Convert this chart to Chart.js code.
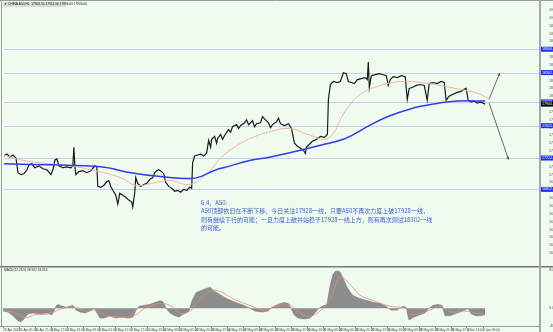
<!DOCTYPE html>
<html>
<head>
<meta charset="utf-8">
<script src="https://cdn.jsdelivr.net/npm/chart.js@4.4.1/dist/chart.umd.min.js"></script>
<style>
html, body { margin: 0; padding: 0; background: #f0fbef; }
#wrap { position: relative; width: 553px; height: 332px; overflow: hidden; background: #f0fbef; }
#main { position: absolute; left: 0; top: 0; }
#macd { position: absolute; left: 0; top: 266px; }
#note { position: absolute; left: 201px; top: 199px; font-family: "Noto Sans CJK SC", sans-serif; font-size: 6px; line-height: 8.3px; color: #3a5ad8; white-space: nowrap; }
</style>
</head>
<body>
<div id="wrap">
  <canvas id="main" width="553" height="266"></canvas>
  <canvas id="macd" width="553" height="66"></canvas>
  <div id="note">6.4，A50:<br>A50顶部依旧在不断下移，今日关注17928一线，只要A50不再次力度上破17928一线，<br>则有继续下行的可能；一旦力度上破并站稳于17928一线上方，则有再次测试18302一线<br>的可能。</div>
</div>
<script>
// hourly bars, index from the first bar on the left
const priceBars = [0,3,6,9,12,14,17,20,23,25,28,31,35,39,43,47,49,51,53,55,59,63,67,69,70,71,72,75,79,83,87,91,93,94,97,100,103,105,107,109,112,114,116,119,122,125,128,129,131,132,134,137,140,143,146,149,151,153,155,158,160,162,165,168,171,174,177,180,183,186,188,189,191,194,197,200,203,205,207,208,211,213,214,217,219,221,225,227,229,233,235,237,241,243,245,249,251,253,257,259,261,265,267,269,273,275,277,281,285,288,291,294,297,300,302,303,306,309,313,317,321,324,325,327,330,334,337,340,343,345,348,351,354,358,362,364,365,366,368,372,376,380,383,385,387,390,394,398,402,404,406,409,413,417,421,424,426,430,434,438,441,443,446,450,454,458,461,463,465,468,471,474,477,480,482];
const priceClose = [17238,17262,17225,17250,17212,17025,17000,17012,17062,17125,17138,17088,17112,17075,17062,17000,17062,17188,17200,17112,17088,17100,17088,17112,17350,17112,17000,17038,17050,17025,17050,17112,17100,16850,16838,16862,16912,16925,16850,16800,16738,16625,16762,16738,16712,16675,16650,16588,16775,16962,16888,16850,16875,16888,16938,16962,17025,17050,17062,17038,17012,16900,16850,16825,16788,16800,16775,16812,16800,16838,16825,17150,17238,17250,17262,17238,17275,17438,17350,17450,17488,17400,17462,17512,17450,17500,17575,17540,17612,17638,17590,17625,17662,17700,17638,17688,17610,17650,17662,17740,17712,17662,17600,17638,17675,17720,17650,17625,17650,17588,17400,17362,17338,17312,17270,17350,17388,17425,17450,17488,17475,17512,17962,18150,18188,18175,18188,18300,18288,18188,18175,18162,18212,18225,18238,18212,18438,18112,18262,18275,18288,18275,18262,18138,18212,18250,18238,18262,18250,17962,18100,18112,18138,18150,18138,17950,18162,18175,18162,18188,18175,17950,18000,18025,18050,18062,18088,18100,17950,17925,17938,17912,17925,17912,17900];

const maFastBars = [0,17,37,67,87,117,132,152,167,182,192,202,209,217,232,247,267,287,307,325,342,357,377,397,417,437,457,472,487];
const maFast = [17250,17188,17150,17112,17062,16962,16862,16900,16925,16875,16900,17000,17088,17212,17362,17462,17550,17588,17500,17462,17812,18025,18138,18188,18175,18138,18088,18050,17962];

const maSlowBars = [0,47,97,127,157,187,197,210,227,244,267,297,317,342,364,384,407,430,454,482];
const maSlow = [17138,17125,17100,17025,16975,16950,16975,17050,17112,17175,17225,17312,17375,17462,17612,17738,17838,17900,17938,17938];

const levelValues = [18600, 18302, 17928, 17625, 17212, 16812];
const lastPrice = 17900;

const arrowUpBars = [486, 496];
const arrowUp = [17962, 18275];
const arrowDownBars = [486, 505];
const arrowDown = [17912, 17212];

const macdBars = [0,5,10,15,18,21,25,30,37,44,49,53,55,59,63,67,70,73,77,82,87,91,94,97,101,107,113,119,125,130,133,136,141,147,152,157,160,163,167,172,176,181,186,189,193,197,202,207,211,217,225,233,241,247,252,259,265,269,275,281,285,288,291,295,301,307,311,315,319,324,327,330,333,337,340,344,349,354,359,365,371,377,383,388,394,400,403,406,411,417,422,426,430,435,439,442,447,452,457,462,465,468,473,477,482];
const macdHist = [-6,-8,-16,-27,-29,-23,-12,-10,-12,-10,-14,4,8,4,2,4,6,-4,-8,-10,-6,0,-10,-21,-21,-16,-21,-19,-21,-19,-4,4,6,8,12,16,14,0,-10,-16,-19,-12,-6,16,33,37,41,45,37,29,19,12,6,0,-6,-8,-6,2,8,12,10,0,-14,-21,-23,-21,-12,-2,4,8,47,72,80,78,64,45,29,23,19,16,12,10,4,-4,-4,4,2,-25,-19,-14,-10,0,6,8,6,-16,-16,-12,-8,-4,0,-12,-16,-16,-14];

const signalBars = [0,12,22,32,47,57,72,82,92,102,117,132,142,157,167,179,189,197,209,219,232,247,259,272,285,293,305,317,327,337,345,357,372,387,402,409,425,437,447,462,472,482];
const signalVals = [-4,-10,-20,-14,-12,-2,3,-6,-4,-15,-19,-15,0,10,6,-12,-2,20,38,34,18,6,-4,2,9,-4,-18,-6,20,66,56,28,15,4,0,-14,-6,4,-8,-6,-10,-14];

const dateLabels = ['29 Apr 2021','30 Apr 01:00','30 Apr 21:00','3 May 17:00','4 May 13:00','5 May 09:00','6 May 01:00','6 May 21:00','7 May 17:00','10 May 13:00','11 May 09:00','12 May 01:00','12 May 21:00','13 May 17:00','14 May 13:00','17 May 09:00','18 May 01:00','18 May 21:00','19 May 17:00','20 May 13:00','21 May 09:00','22 May 01:00','24 May 21:00','25 May 17:00','26 May 13:00','27 May 09:00','28 May 01:00','28 May 21:00','31 May 17:00','1 Jun 13:00','2 Jun 09:00'];
const labelStep = 16;

const titleText = '\u25BC CHINA A50,H1  17903.50 17912.00 17896.00 17900.00';
const macdTitle = 'MACD(12,26,9) 28.902 41.356';

const pts = (xs, ys) => xs.map((x, i) => ({ x: x, y: ys[i] }));
const tiny = "'Liberation Sans', Arial, sans-serif";

const mainPlugin = {
  id: 'mainDeco',
  beforeDatasetsDraw(chart) {
    const { ctx, chartArea: a, scales: { y } } = chart;
    ctx.save();
    ctx.strokeStyle = '#c4cef2';
    ctx.lineWidth = 1;
    levelValues.forEach(v => {
      const py = Math.round(y.getPixelForValue(v)) + 0.5;
      ctx.beginPath(); ctx.moveTo(a.left, py); ctx.lineTo(a.right, py); ctx.stroke();
    });
    ctx.restore();
  },
  afterDraw(chart) {
    const { ctx, chartArea: a, scales: { y } } = chart;
    ctx.save();
    ctx.strokeStyle = '#9a9a9a';
    ctx.lineWidth = 1;
    ctx.beginPath(); ctx.moveTo(1.5, 0); ctx.lineTo(1.5, 266); ctx.stroke();
    ctx.beginPath(); ctx.moveTo(0, 0.5); ctx.lineTo(553, 0.5); ctx.stroke();
    ctx.lineWidth = 2;
    ctx.strokeStyle = '#a8a8a8';
    ctx.beginPath(); ctx.moveTo(a.right + 1, 0); ctx.lineTo(a.right + 1, 266); ctx.stroke();
    ctx.font = '3.6px ' + tiny;
    ctx.textBaseline = 'middle';
    const box = (v, bg) => {
      const py = y.getPixelForValue(v);
      ctx.fillStyle = bg;
      ctx.fillRect(a.right + 2, py - 2.5, 553 - a.right - 2, 5);
      ctx.fillStyle = '#ffffff';
      ctx.fillText(v.toFixed(2), a.right + 3, py);
    };
    levelValues.forEach(v => box(v, '#1f2cf0'));
    box(lastPrice, '#000000');
    ctx.fillStyle = '#dcdcdc';
    ctx.fillRect(3, 2, 63, 5);
    ctx.fillStyle = '#111';
    ctx.font = '3.2px ' + tiny;
    ctx.fillText(titleText, 4, 4.6);
    ctx.restore();
  }
};

new Chart(document.getElementById('main'), {
  type: 'line',
  data: {
    datasets: [
      { data: pts(maSlowBars, maSlow), borderColor: '#2f3ee6', borderWidth: 1.5, pointRadius: 0, tension: 0.4 },
      { data: pts(maFastBars, maFast), borderColor: '#f2b3a4', borderWidth: 1, pointRadius: 0, tension: 0.4 },
      { data: pts(priceBars, priceClose), borderColor: '#1a1a1a', borderWidth: 1.2, pointRadius: 0, tension: 0 },
      { data: pts(arrowUpBars, arrowUp), borderColor: '#666', borderWidth: 1, pointRadius: [0, 2], pointStyle: 'triangle', pointRotation: 22, pointBackgroundColor: '#666', pointBorderWidth: 0 },
      { data: pts(arrowDownBars, arrowDown), borderColor: '#666', borderWidth: 1, pointRadius: [0, 2], pointStyle: 'triangle', pointRotation: 161, pointBackgroundColor: '#666', pointBorderWidth: 0 }
    ]
  },
  options: {
    responsive: false, animation: false,
    layout: { padding: { left: 3, top: 3, right: 0, bottom: 0 } },
    plugins: { legend: { display: false }, tooltip: { enabled: false } },
    scales: {
      x: { type: 'linear', min: 0, max: 536, display: false },
      y: {
        position: 'right', min: 15887.5, max: 19175,
        grid: { display: false }, border: { display: false },
        ticks: { stepSize: 100, maxTicksLimit: 60, color: '#555', padding: 2, font: { size: 3.6, family: tiny }, callback: v => v.toFixed(2) },
        afterBuildTicks: s => { s.ticks = s.ticks.filter(t => t.value % 100 === 0); },
        afterFit: s => { s.width = 14; }
      }
    }
  },
  plugins: [mainPlugin]
});

const macdPlugin = {
  id: 'macdDeco',
  afterDraw(chart) {
    const { ctx, chartArea: a } = chart;
    ctx.save();
    ctx.strokeStyle = '#777';
    ctx.lineWidth = 1.5;
    ctx.beginPath(); ctx.moveTo(0, 0.75); ctx.lineTo(553, 0.75); ctx.stroke();
    ctx.lineWidth = 1;
    ctx.strokeStyle = '#9a9a9a';
    ctx.beginPath(); ctx.moveTo(1.5, 0); ctx.lineTo(1.5, a.bottom); ctx.stroke();
    ctx.beginPath(); ctx.moveTo(0, a.bottom + 0.5); ctx.lineTo(a.right + 2, a.bottom + 0.5); ctx.stroke();
    ctx.lineWidth = 2;
    ctx.strokeStyle = '#a8a8a8';
    ctx.beginPath(); ctx.moveTo(a.right + 1, 0); ctx.lineTo(a.right + 1, 66); ctx.stroke();
    ctx.fillStyle = '#222';
    ctx.font = '3.2px ' + tiny;
    ctx.textBaseline = 'middle';
    ctx.fillText(macdTitle, 4, 4);
    ctx.restore();
  }
};

new Chart(document.getElementById('macd'), {
  type: 'line',
  data: {
    datasets: [
      { data: pts(signalBars, signalVals), borderColor: '#e98a7a', borderWidth: 0.8, pointRadius: 0, tension: 0.35 },
      { data: pts(macdBars, macdHist), borderColor: '#7a7a7a', backgroundColor: '#8d8d8d', borderWidth: 0.6, pointRadius: 0, tension: 0, fill: 'origin' }
    ]
  },
  options: {
    responsive: false, animation: false,
    layout: { padding: { left: 3, top: 2, right: 0, bottom: 0 } },
    plugins: { legend: { display: false }, tooltip: { enabled: false } },
    scales: {
      x: {
        type: 'linear', min: 0, max: 536,
        grid: { display: true, drawOnChartArea: false, tickLength: 2, color: '#888' },
        border: { display: false },
        ticks: { align: 'start', maxRotation: 0, autoSkip: false, padding: 0, color: '#444', font: { size: 3.2, family: tiny }, callback: (v, i) => dateLabels[i] },
        afterBuildTicks: s => { s.ticks = dateLabels.map((_, i) => ({ value: i * labelStep })); },
        afterFit: s => { s.height = 6; }
      },
      y: {
        position: 'right', min: -38, max: 81.274,
        grid: { display: false }, border: { display: false },
        ticks: { color: '#555', padding: 2, font: { size: 3.6, family: tiny }, callback: v => v === 0 ? '0.00' : v.toFixed(3) },
        afterBuildTicks: s => { s.ticks = [{ value: s.min }, { value: 0 }, { value: s.max }]; },
        afterFit: s => { s.width = 14; }
      }
    }
  },
  plugins: [macdPlugin]
});
</script>
</body>
</html>
